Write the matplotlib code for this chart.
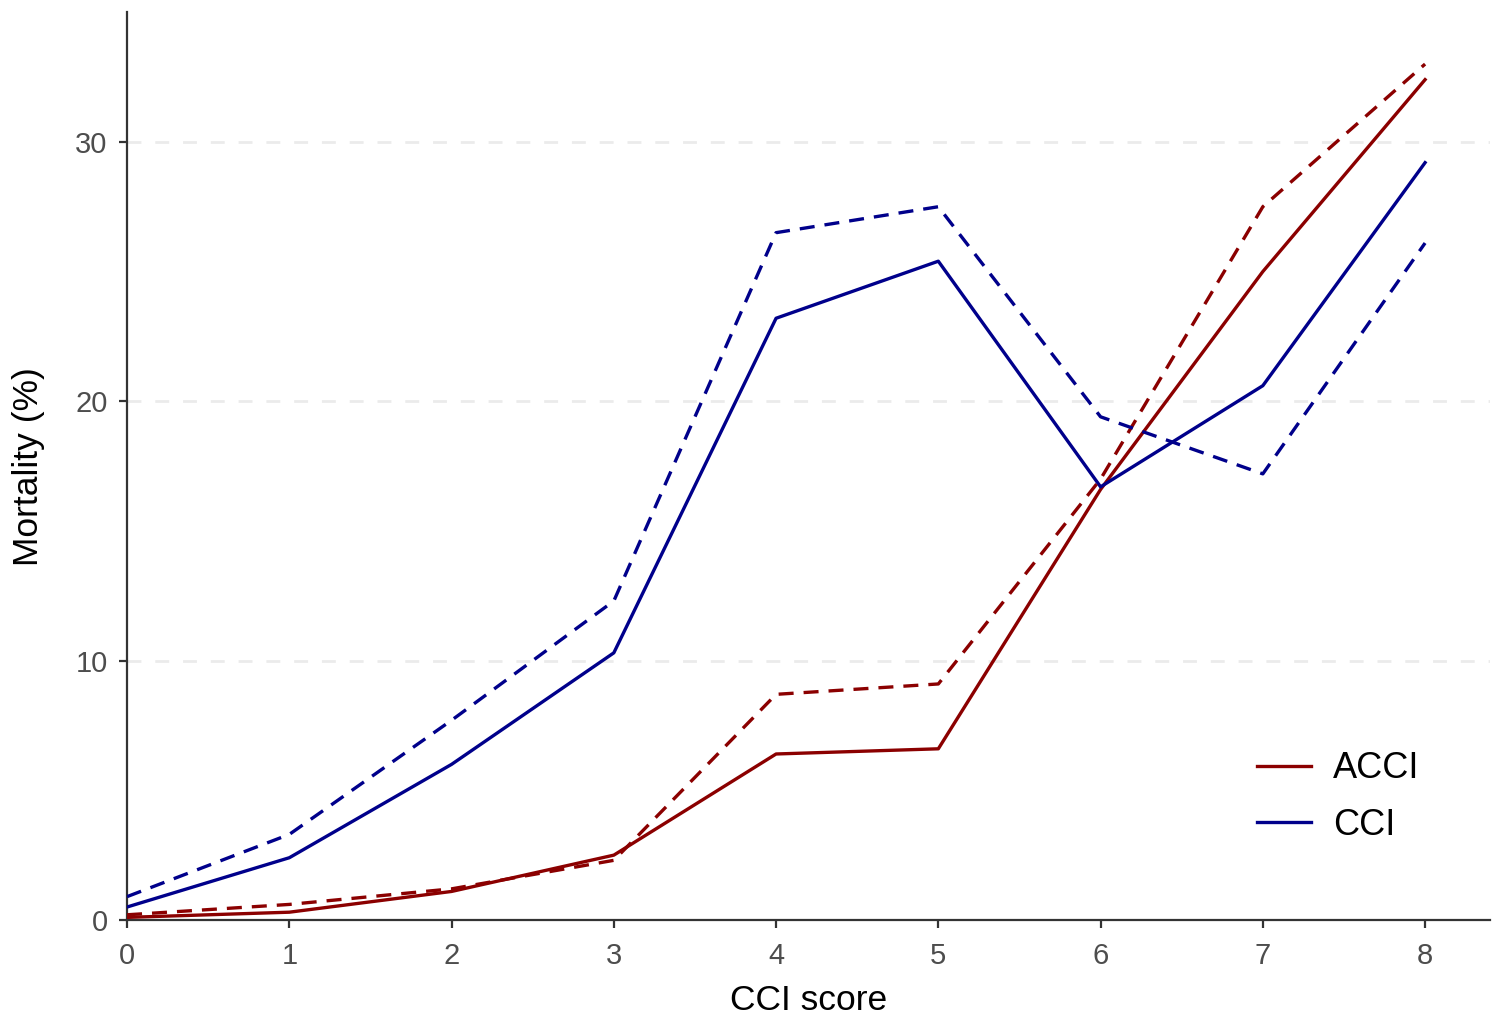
import numpy as np
import matplotlib.pyplot as plt

plt.rcParams['font.family'] = ['Liberation Sans', 'DejaVu Sans']

# ── Data ──────────────────────────────────────────────────────
scores = [0, 1, 2, 3, 4, 5, 6, 7, 8]
acci_solid = [0.1, 0.3, 1.1, 2.5, 6.4, 6.6, 16.6, 25.0, 32.4]
acci_dash  = [0.2, 0.6, 1.2, 2.3, 8.7, 9.1, 17.0, 27.5, 33.0]
cci_solid  = [0.5, 2.4, 6.0, 10.3, 23.2, 25.4, 16.7, 20.6, 29.2]
cci_dash   = [0.9, 3.3, 7.7, 12.3, 26.5, 27.5, 19.4, 17.2, 26.1]

RED, BLUE = '#8B0000', '#00008B'

fig = plt.figure(figsize=(15.02, 10.17), dpi=100)
ax = fig.add_axes([0.0846, 0.0954, 0.9074, 0.8926])

lw = 2.4
dash = (0, (4.5, 3))
ax.plot(scores, acci_solid, color=RED, lw=lw, label='ACCI', zorder=3)
ax.plot(scores, cci_solid, color=BLUE, lw=lw, label='CCI', zorder=3)
ax.plot(scores, acci_dash, color=RED, lw=lw, ls=dash, zorder=3)
ax.plot(scores, cci_dash, color=BLUE, lw=lw, ls=dash, zorder=3)

ax.set_xlim(0, 8.4)
ax.set_ylim(0, 35)
ax.set_xticks(scores)
ax.set_yticks([0, 10, 20, 30])
for y in [10, 20, 30]:
    ax.axhline(y, color='#EBEBEB', lw=2, ls=(0, (5, 5)), zorder=1)

for s in ['top', 'right']:
    ax.spines[s].set_visible(False)
for s in ['left', 'bottom']:
    ax.spines[s].set_color('#333333')
    ax.spines[s].set_linewidth(1.6)
ax.tick_params(axis='both', colors='#333333', width=1.6, length=6,
               labelsize=21, labelcolor='#4D4D4D')
ax.tick_params(axis='y', pad=8)
ax.tick_params(axis='x', pad=10)

ax.set_xlabel('CCI score', fontsize=25.5, labelpad=10)
ax.set_ylabel('Mortality (%)', fontsize=25.5, labelpad=22)

leg = ax.legend(loc='lower right', bbox_to_anchor=(0.972, 0.049), frameon=False,
                fontsize=26, handlelength=1.5, handletextpad=0.6, labelspacing=0.6)

fig.savefig('out.png', dpi=100)
